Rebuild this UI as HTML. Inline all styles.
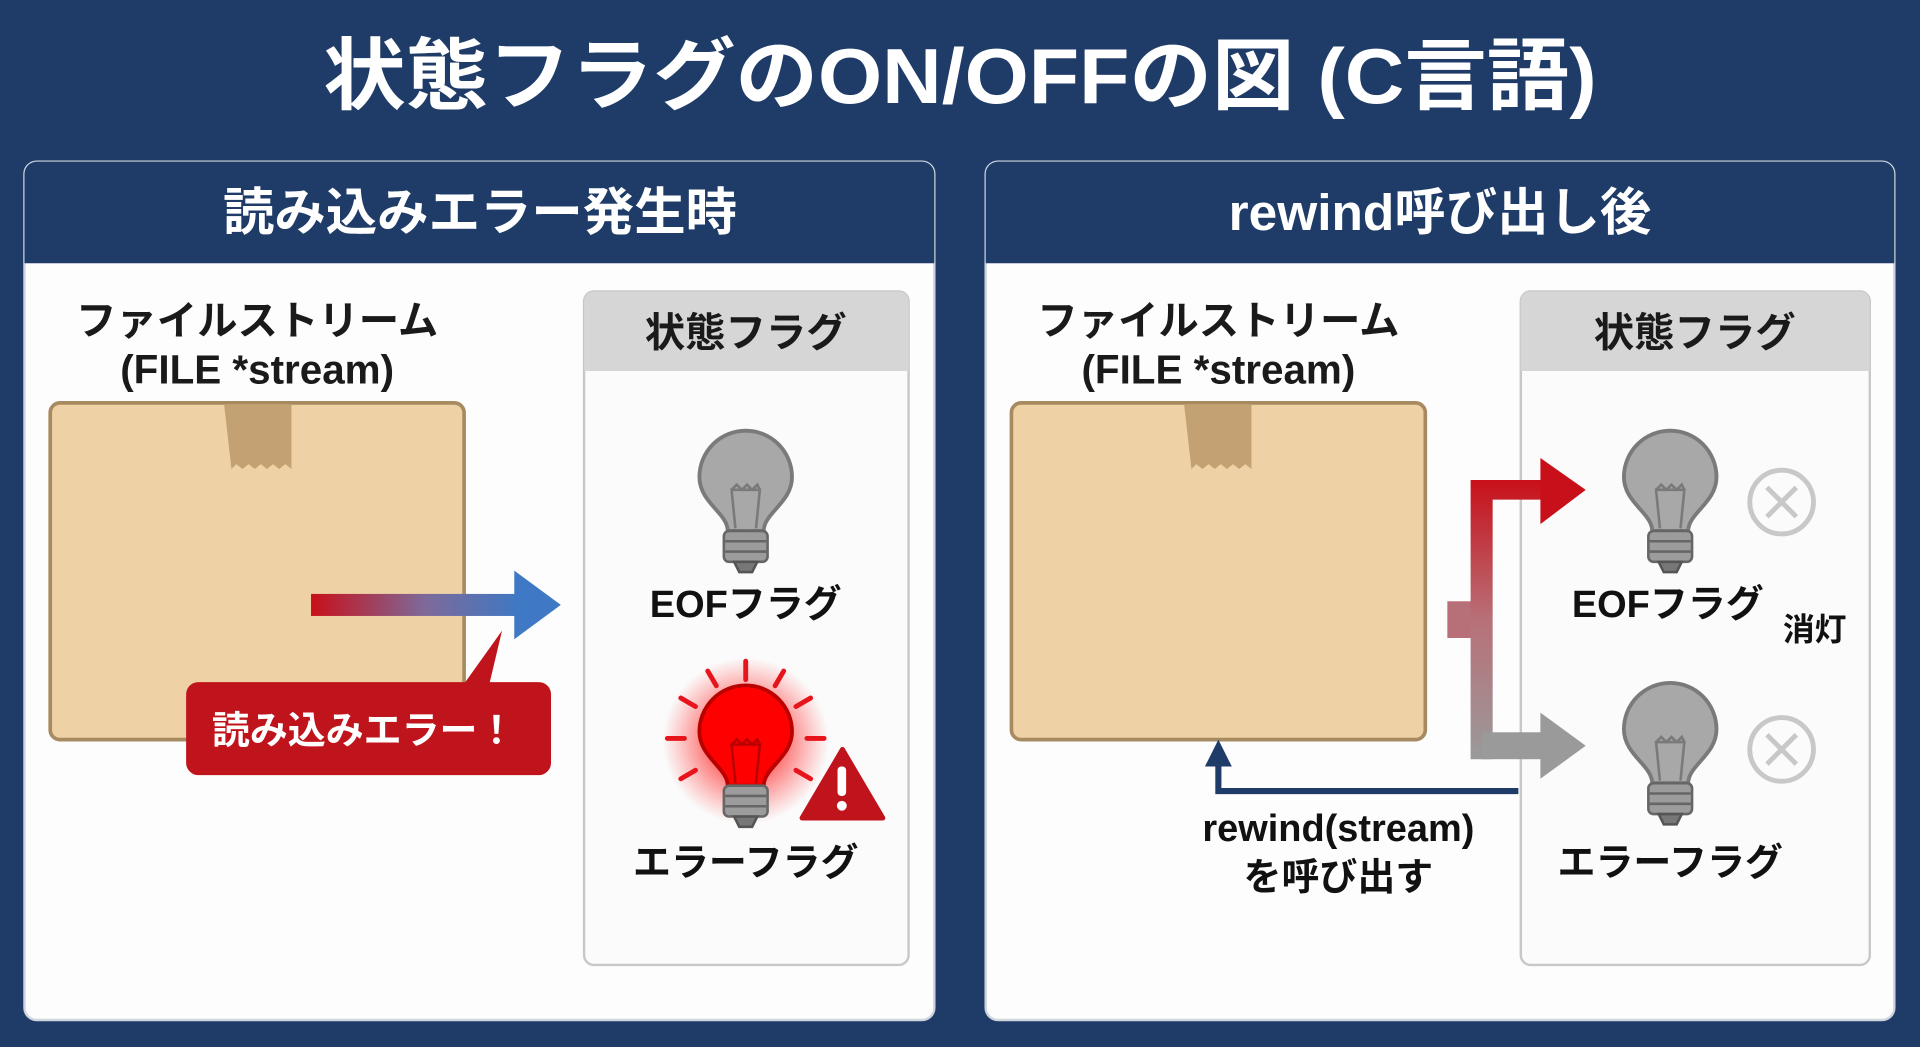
<!DOCTYPE html>
<html><head><meta charset="utf-8"><style>
html,body{margin:0;padding:0;background:#1f3c69;width:1920px;height:1047px;overflow:hidden}
svg{display:block}
text{font-family:"Liberation Sans","Noto Sans CJK JP",sans-serif;font-weight:bold}
</style></head><body>
<svg width="1920" height="1047" viewBox="0 0 1568 855" xmlns="http://www.w3.org/2000/svg">
<defs>
<linearGradient id="ga" x1="0" x2="1" y1="0" y2="0"><stop offset="0" stop-color="#c8101a"/><stop offset="0.55" stop-color="#7d6a9a"/><stop offset="1" stop-color="#3f78c4"/></linearGradient>
<linearGradient id="gb" x1="0" x2="0" y1="0" y2="1"><stop offset="0" stop-color="#c8101a"/><stop offset="0.5" stop-color="#b87078"/><stop offset="1" stop-color="#9a9a9a"/></linearGradient>
<radialGradient id="glow"><stop offset="0.4" stop-color="#ff2020" stop-opacity="0.7"/><stop offset="1" stop-color="#ff4040" stop-opacity="0"/></radialGradient>
<g id="bulb">
<path d="M-14,72 C-14,58 -36,50 -36,30 A36,36 0 1 1 36,30 C36,50 14,58 14,72 Z" stroke-width="3"/>
<path d="M-8,70 L-11,40 L11,40 L8,70 M-11,40 l4,-4 l4,4 l4,-4 l4,4 l4,-4 l2,4" fill="none" stroke-width="2"/>
</g>
<g id="base">
<rect x="-17" y="72" width="34" height="24" rx="4" fill="#9c9c9c" stroke="#666" stroke-width="2"/>
<path d="M-16,80 H16 M-16,88 H16" stroke="#666" stroke-width="2"/>
<path d="M-9,96 H9 L5,104 H-5Z" fill="#777" stroke="#555" stroke-width="2"/>
</g>
</defs>
<rect width="1568" height="855" fill="#1f3c69"/>
<text x="784" y="84" font-size="64" fill="#fff" text-anchor="middle" textLength="1040" lengthAdjust="spacingAndGlyphs">状態フラグのON/OFFの図 (C言語)</text>

<!-- left panel -->
<rect x="20" y="132" width="743" height="701" rx="10" fill="#fdfdfd" stroke="#d0d6de" stroke-width="2"/>
<path d="M20,215 V142 a10,10 0 0 1 10,-10 H753 a10,10 0 0 1 10,10 V215Z" fill="#1f3c69"/>
<text x="392" y="188" font-size="42" fill="#fff" text-anchor="middle">読み込みエラー発生時</text>
<text x="210" y="273" font-size="33" fill="#1a1a1a" text-anchor="middle">ファイルストリーム</text>
<text x="210" y="313" font-size="33" fill="#1a1a1a" text-anchor="middle">(FILE *stream)</text>
<rect x="41" y="329" width="338" height="275" rx="8" fill="#eed2a6" stroke="#a88a60" stroke-width="3"/>
<path d="M183,330 H238 V383 l-5,-4 -5,4 -5,-4 -5,4 -5,-4 -5,4 -5,-4 -5,4 -5,-4 -4,4Z" fill="#c4a172"/>
<rect x="254" y="485" width="170" height="18" fill="url(#ga)"/>
<path d="M420,466 L458,494 L420,522Z" fill="#3f78c4"/>
<path d="M165,557 H380 L410,515 L400,557 H440 a10,10 0 0 1 10,10 V623 a10,10 0 0 1 -10,10 H162 a10,10 0 0 1 -10,-10 V567 a10,10 0 0 1 10,-10Z" fill="#c0141c"/>
<text x="297" y="607" font-size="31" fill="#fff" text-anchor="middle">読み込みエラー！</text>
<rect x="477" y="238" width="265" height="550" rx="8" fill="#fbfbfb" stroke="#c8c8c8" stroke-width="2"/>
<path d="M477,303 V246 a8,8 0 0 1 8,-8 H734 a8,8 0 0 1 8,8 V303Z" fill="#d6d6d6"/>
<text x="609" y="283" font-size="33" fill="#1a1a1a" text-anchor="middle">状態フラグ</text>
<g transform="translate(609,358) scale(1.05)"><use href="#bulb" fill="#a8a8a8" stroke="#7a7a7a"/><use href="#base"/></g>
<text x="609" y="504" font-size="31" fill="#111" text-anchor="middle">EOFフラグ</text>
<circle cx="609" cy="605" r="68" fill="url(#glow)"/>
<g stroke="#e8141c" stroke-width="4" stroke-linecap="round">
<path d="M609,540 V555 M578,548 l7,12 M640,548 l-7,12 M556,570 l12,7 M662,570 l-12,7 M545,603 h14 M673,603 h-14 M556,636 l12,-7 M662,636 l-12,-7"/>
</g>
<g transform="translate(609,566) scale(1.05)"><use href="#bulb" fill="#f00" stroke="#b00"/><use href="#base"/></g>
<path d="M688,612 L721,668 H655Z" fill="#c0141c" stroke="#c0141c" stroke-width="4" stroke-linejoin="round"/>
<rect x="684" y="626" width="7" height="24" rx="3" fill="#fff"/><circle cx="687.5" cy="658" r="4" fill="#fff"/>
<text x="609" y="715" font-size="31" fill="#111" text-anchor="middle">エラーフラグ</text>

<!-- right panel -->
<rect x="805" y="132" width="742" height="701" rx="10" fill="#fdfdfd" stroke="#d0d6de" stroke-width="2"/>
<path d="M805,215 V142 a10,10 0 0 1 10,-10 H1537 a10,10 0 0 1 10,10 V215Z" fill="#1f3c69"/>
<text x="1176" y="188" font-size="42" fill="#fff" text-anchor="middle">rewind呼び出し後</text>
<text x="995" y="273" font-size="33" fill="#1a1a1a" text-anchor="middle">ファイルストリーム</text>
<text x="995" y="313" font-size="33" fill="#1a1a1a" text-anchor="middle">(FILE *stream)</text>
<rect x="826" y="329" width="338" height="275" rx="8" fill="#eed2a6" stroke="#a88a60" stroke-width="3"/>
<path d="M967,330 H1022 V383 l-5,-4 -5,4 -5,-4 -5,4 -5,-4 -5,4 -5,-4 -5,4 -5,-4 -4,4Z" fill="#c4a172"/>
<rect x="1242" y="238" width="285" height="550" rx="8" fill="#fbfbfb" stroke="#c8c8c8" stroke-width="2"/>
<path d="M1242,303 V246 a8,8 0 0 1 8,-8 H1519 a8,8 0 0 1 8,8 V303Z" fill="#d6d6d6"/>
<text x="1384" y="283" font-size="33" fill="#1a1a1a" text-anchor="middle">状態フラグ</text>
<rect x="1182" y="491" width="20" height="30" fill="#b87078"/>
<path d="M1201,392 H1262 V408 H1219 V620 H1201Z" fill="url(#gb)"/>
<path d="M1258,374 L1295,400 L1258,428Z" fill="#c8101a"/>
<rect x="1210" y="598" width="52" height="22" fill="#9a9a9a"/>
<path d="M1258,582 L1295,609 L1258,636Z" fill="#9a9a9a"/>
<path d="M1240,646 H995 V622" fill="none" stroke="#1f3c69" stroke-width="5"/>
<path d="M984,626 L995,604 L1006,626Z" fill="#1f3c69"/>
<text x="1093" y="687" font-size="31" fill="#111" text-anchor="middle">rewind(stream)</text>
<text x="1093" y="727" font-size="31" fill="#111" text-anchor="middle">を呼び出す</text>
<g transform="translate(1364,358) scale(1.05)"><use href="#bulb" fill="#a8a8a8" stroke="#7a7a7a"/><use href="#base"/></g>
<g transform="translate(1364,564) scale(1.05)"><use href="#bulb" fill="#a8a8a8" stroke="#7a7a7a"/><use href="#base"/></g>
<g fill="none" stroke="#c8c8c8" stroke-width="4">
<circle cx="1455" cy="410" r="26"/><path d="M1443,398 l24,24 M1467,398 l-24,24"/>
<circle cx="1455" cy="612" r="26"/><path d="M1443,600 l24,24 M1467,600 l-24,24"/>
</g>
<text x="1362" y="504" font-size="31" fill="#111" text-anchor="middle">EOFフラグ</text>
<text x="1482" y="523" font-size="26" fill="#111" text-anchor="middle">消灯</text>
<text x="1364" y="715" font-size="31" fill="#111" text-anchor="middle">エラーフラグ</text>
</svg>
</body></html>
